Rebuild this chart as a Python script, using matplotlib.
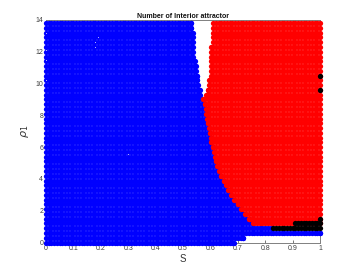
import numpy as np
import matplotlib
matplotlib.use("Agg")
import matplotlib.pyplot as plt

plt.rcParams['font.family'] = ['Liberation Sans', 'DejaVu Sans']
plt.rcParams['mathtext.fontset'] = 'dejavusans'

# grid of the parameter scan
s_grid = np.arange(0, 1.001, 0.01)
rho_rows = [0.0, 0.3, 0.6, 0.9, 1.2, 1.5, 1.8, 2.1, 2.4, 2.7, 3.0, 3.3, 3.6, 3.9, 4.2, 4.5,
            4.8, 5.1, 5.4, 5.7, 6.0, 6.3, 6.6, 6.9, 7.2, 7.5, 7.8, 8.1, 8.4, 8.7, 9.0, 9.3,
            9.6, 9.9, 10.2, 10.5, 10.8, 11.1, 11.4, 11.7, 12.0, 12.3, 12.6, 12.9, 13.2, 13.5, 13.8]

# last S of the blue region in each row
blue_last = [.687, .72, 1.0, .82,
             .755, .740, .726, .711, .700, .685, .674, .663, .656, .649, .638, .631, .623, .620,
             .616, .612, .609, .603, .601, .598, .594, .590, .587, .583, .583, .579, .572,
             .563, .563, .556, .552, .552, .548, .548, .545,
             .537, .537, .537, .537, .537, .537, .530, .530]

# first S of the red region in each row
red_first = [np.nan, np.nan, np.nan, np.nan,
             .755, .740, .726, .711, .700, .685, .674, .663, .656, .649, .638, .631, .623, .620,
             .616, .612, .609, .603, .601, .598, .594, .590, .587, .583, .583, .579, .572,
             .583, .590, .594, .594,
             .602, .602, .602, .602, .602, .602, .602,
             .611, .611, .611, .611, .611]

# black points
black_s = [.83, .84, .85, .86, .87, .88, .89, .90, .91, .92, .93, .94, .95, .96, .97, .98, .99, 1.0,
           .91, .92, .93, .94, .95, .96, .97, .98, .99, 1.0,
           1.0, 1.0, 1.0]
black_rho = [.9, .9, .9, .9, .9, .9, .9, .9, .9, .9, .9, .9, .9, .9, .9, .9, .9, .9,
             1.2, 1.2, 1.2, 1.2, 1.2, 1.2, 1.2, 1.2, 1.2, 1.2,
             1.5, 9.6, 10.5]

# small holes in the blue region
hole_s = [.18, .18, .19, .30, 0.0, 0.0, 0.0, 0.0]
hole_rho = [12.3, 12.6, 12.9, 5.6, 10.2, 11.5, 12.1, 13.2]

xticks = [0, 0.1, 0.2, 0.3, 0.4, 0.5, 0.6, 0.7, 0.8, 0.9, 1]
xticklabels = ['0', '0.1', '0.2', '0.3', '0.4', '0.5', '0.6', '0.7', '0.8', '0.9', '1']
yticks = [0, 2, 4, 6, 8, 10, 12, 14]

blue_x, blue_y, red_x, red_y = [], [], [], []
for i, rho in enumerate(rho_rows):
    row = list(s_grid[s_grid <= blue_last[i]]) + [blue_last[i]]
    blue_x += row
    blue_y += [rho] * len(row)
    if not np.isnan(red_first[i]):
        row = [red_first[i]] + list(s_grid[s_grid >= red_first[i]])
        red_x += row
        red_y += [rho] * len(row)

fig = plt.figure(figsize=(3.54, 2.73), dpi=100)
ax = fig.add_axes([46 / 354, (273 - 242.5) / 273, 274 / 354, 222.5 / 273])

ms = 14.5
ax.scatter(blue_x, blue_y, s=ms, c='#0000ff', linewidths=0, clip_on=False, zorder=3)
ax.scatter(red_x, red_y, s=ms, c='#ff0000', linewidths=0, clip_on=False, zorder=3.1)
ax.scatter(black_s, black_rho, s=ms, c='black', linewidths=0, clip_on=False, zorder=3.2)
ax.scatter(hole_s, hole_rho, s=0.6, c='#c8c8ff', linewidths=0, clip_on=False, zorder=3.3)

ax.set_xlim(0, 1)
ax.set_ylim(0, 14)
ax.set_xticks(xticks)
ax.set_xticklabels(xticklabels)
ax.set_yticks(yticks)
ax.tick_params(direction='in', length=2.2, width=0.5, labelsize=5, colors='#404040', pad=2)
ax.xaxis.set_ticks_position('bottom')
for sp in ax.spines.values():
    sp.set_color('#808080')
    sp.set_linewidth(0.7)

ax.set_title('Number of Interior attractor', fontsize=5, fontweight='bold', pad=1.5, color='#111111')
ax.set_xlabel('S', fontsize=7, color='#333333', labelpad=1)
ax.set_ylabel(r'$\rho_1$', fontsize=8, color='#333333', labelpad=3)

fig.savefig('out.png', dpi=100)
